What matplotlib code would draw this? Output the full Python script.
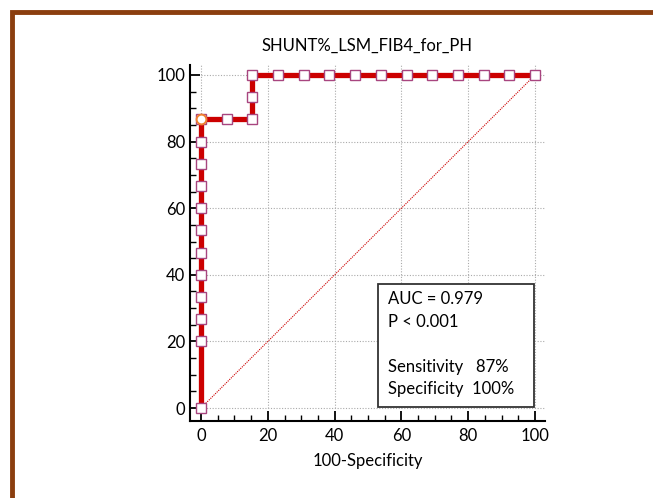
import matplotlib.pyplot as plt
from matplotlib.patches import Rectangle
from matplotlib.ticker import MultipleLocator

plt.rcParams['font.family'] = ['Lato', 'DejaVu Sans']

## ROC points (100-Specificity, Sensitivity)
fpr = [0, 0, 0, 0, 0, 0, 0, 0, 0, 0, 0, 0,
       7.69, 15.38, 15.38, 15.38, 23.08, 30.77, 38.46, 46.15,
       53.85, 61.54, 69.23, 76.92, 84.62, 92.31, 100]
tpr = [0, 20, 26.67, 33.33, 40, 46.67, 53.33, 60, 66.67, 73.33, 80, 86.67,
       86.67, 86.67, 93.33, 100, 100, 100, 100, 100,
       100, 100, 100, 100, 100, 100, 100]
best_x, best_y = 0, 86.67
title = "SHUNT%_LSM_FIB4_for_PH"
stats = ["AUC = 0.979", "P < 0.001", "", "Sensitivity   87%", "Specificity  100%"]
ticks = [0, 20, 40, 60, 80, 100]

fig = plt.figure(figsize=(6.53, 4.98), dpi=100)
fig.patches.append(Rectangle((12/653, -0.1), 1.2, 1 - 12/498 + 0.1,
                             transform=fig.transFigure, fill=False,
                             edgecolor="#8B3E0F", linewidth=3.5))
ax = fig.add_axes([190/653, 1 - 420.7/498, 355/653, 355.7/498])
ax.set_xlim(-3.3, 103)
ax.set_ylim(-3.8, 103)

# grid
for t in ticks:
    ax.plot([0, 103], [t, t], color="#aaaaaa", lw=0.8, ls=(0, (1, 1.5)), zorder=1)
    ax.plot([t, t], [0, 103], color="#aaaaaa", lw=0.8, ls=(0, (1, 1.5)), zorder=1)

ax.plot([0, 100], [0, 100], color="#CC0000", lw=0.8, ls=(0, (1, 1)), zorder=2)
ax.plot(fpr, tpr, color="#CC0000", lw=3.8, zorder=3)
ax.plot(fpr, tpr, ls="none", marker="s", ms=6.5, mfc="white",
        mec="#A8457F", mew=1.0, zorder=4)
ax.plot([best_x], [best_y], ls="none", marker="o", ms=7, mfc="white",
        mec="#F08030", mew=1.4, zorder=5)

# stats box
ax.add_patch(Rectangle((53, 0.3), 46.7, 37, fill=True, facecolor="white",
                       edgecolor="#333333", lw=1.3, zorder=6))
ax.text(56, 35.0, "\n".join(stats), fontsize=12, va="top", ha="left",
        linespacing=1.5, zorder=7)

for s in ["top", "right"]:
    ax.spines[s].set_visible(False)
for s in ["left", "bottom"]:
    ax.spines[s].set_linewidth(1.5)
ax.set_xticks(ticks)
ax.set_yticks(ticks)
ax.xaxis.set_minor_locator(MultipleLocator(5))
ax.yaxis.set_minor_locator(MultipleLocator(5))
ax.tick_params(which="major", direction="in", length=7, width=1.3, labelsize=12)
ax.tick_params(which="minor", direction="in", length=4, width=1.0)
ax.tick_params(axis="x", pad=5)
ax.set_title(title, fontsize=12, pad=10)
ax.set_xlabel("100-Specificity", fontsize=12, labelpad=7)

fig.savefig("out.png", dpi=100)
